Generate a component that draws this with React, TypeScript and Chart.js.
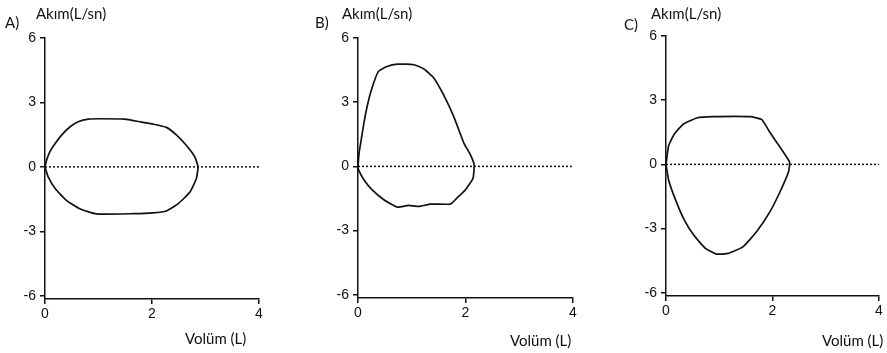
import React, { useEffect, useRef } from "react";
import { Chart, registerables } from "chart.js";

Chart.register(...registerables);

// ---- data ----
const xTickValues = [0, 2, 4];
const yTickValues = [-6, -3, 0, 3, 6];
const baselineX = [0, 4];
const baselineY = [0, 0];

// Panel A (normal-ish loop)
const volA = [0, 0.03, 0.09, 0.19, 0.31, 0.47, 0.62, 0.81, 1.03, 1.49, 1.77, 2.02, 2.27, 2.46, 2.64, 2.8, 2.86,
  2.83, 2.71, 2.49, 2.27, 2.02, 1.65, 0.96, 0.65, 0.4, 0.19, 0.06, 0];
const flowA = [0, 0.31, 0.7, 1.09, 1.48, 1.87, 2.1, 2.22, 2.24, 2.22, 2.1, 1.99, 1.84, 1.48, 1.01, 0.47, 0,
  -0.54, -1.17, -1.71, -2.05, -2.14, -2.18, -2.19, -1.95, -1.56, -1.01, -0.47, 0];

// Panel B
const volB = [0, 0.02, 0.06, 0.11, 0.17, 0.26, 0.38, 0.54, 0.73, 1.04, 1.22, 1.41, 1.59, 1.78, 1.97, 2.09, 2.16,
  2.14, 2.0, 1.84, 1.72, 1.35, 1.13, 0.94, 0.73, 0.48, 0.26, 0.11, 0.01, 0];
const flowB = [0, 0.62, 1.25, 2.02, 2.8, 3.66, 4.44, 4.67, 4.78, 4.75, 4.56, 4.13, 3.35, 2.34, 1.09, 0.55, 0.08,
  -0.55, -1.09, -1.48, -1.76, -1.76, -1.87, -1.82, -1.9, -1.56, -1.09, -0.62, -0.16, 0];

// Panel C
const volC = [0, 0.05, 0.16, 0.33, 0.58, 0.89, 1.58, 1.8, 1.95, 2.14, 2.32,
  2.3, 2.14, 1.95, 1.7, 1.45, 1.17, 0.95, 0.74, 0.52, 0.33, 0.17, 0.05, 0];
const flowC = [0, 0.88, 1.43, 1.89, 2.17, 2.23, 2.23, 2.09, 1.5, 0.81, 0.11,
  -0.36, -1.29, -2.22, -3.15, -3.84, -4.16, -4.19, -3.92, -3.3, -2.53, -1.6, -0.74, 0];

const panelLetters = ["A)", "B)", "C)"];
const yTitle = "Akım(L/sn)";
const xTitle = "Volüm (L)";

const TICK_FONT = "'Liberation Sans', Arial, sans-serif";
const TITLE_FONT = "Lato, 'Liberation Sans', sans-serif";

type PanelLayout = { left: number; width: number; top: number; bottom: number; padRight: number };

const layouts: PanelLayout[] = [
  { left: 0, width: 300, top: 38, bottom: 299, padRight: 41 },
  { left: 313, width: 300, top: 38, bottom: 298, padRight: 40 },
  { left: 621, width: 266, top: 36, bottom: 296, padRight: 8 },
];

const series = [
  { v: volA, f: flowA },
  { v: volB, f: flowB },
  { v: volC, f: flowC },
];

function Panel({ idx }: { idx: number }) {
  const ref = useRef<HTMLCanvasElement | null>(null);
  const L = layouts[idx];
  useEffect(() => {
    if (!ref.current) return;
    const s = series[idx];
    const loop = s.v.map((x, i) => ({ x, y: s.f[i] }));
    const base = baselineX.map((x, i) => ({ x, y: baselineY[i] }));
    const xh = 353 - L.bottom;
    const chart = new Chart(ref.current, {
      type: "scatter",
      data: {
        datasets: [
          {
            data: base,
            showLine: true,
            borderColor: "#111",
            borderWidth: 1.5,
            borderDash: [2, 2],
            pointRadius: 0,
          },
          {
            data: loop,
            showLine: true,
            borderColor: "#111",
            borderWidth: 1.7,
            pointRadius: 0,
            tension: 0.15,
          },
        ],
      },
      options: {
        responsive: false,
        animation: false,
        clip: false as any,
        layout: { padding: { left: 5, right: L.padRight, top: L.top, bottom: 0 } },
        plugins: { legend: { display: false }, tooltip: { enabled: false } },
        scales: {
          x: {
            type: "linear",
            min: 0,
            max: 4,
            afterBuildTicks: (sc: any) => {
              sc.ticks = xTickValues.map((value) => ({ value }));
            },
            afterFit: (sc: any) => {
              sc.height = xh;
            },
            grid: { display: true, drawOnChartArea: false, drawTicks: true, tickLength: 5, color: "#111", lineWidth: 1.5 },
            border: { display: true, color: "#111", width: 1.5 },
            ticks: { color: "#111", font: { family: TICK_FONT, size: 14 }, padding: 2, maxRotation: 0, autoSkip: false },
          },
          y: {
            type: "linear",
            min: -6.15,
            max: 6,
            afterBuildTicks: (sc: any) => {
              sc.ticks = yTickValues.map((value) => ({ value }));
            },
            afterFit: (sc: any) => {
              sc.width = 40;
            },
            grid: { display: true, drawOnChartArea: false, drawTicks: true, tickLength: 5, color: "#111", lineWidth: 1.5 },
            border: { display: true, color: "#111", width: 1.5 },
            ticks: { color: "#111", font: { family: TICK_FONT, size: 14 }, padding: 4, autoSkip: false },
          },
        },
      },
    });
    return () => chart.destroy();
  }, [idx]);
  return (
    <canvas
      ref={ref}
      width={L.width}
      height={353}
      style={{ position: "absolute", left: L.left, top: 0, width: L.width, height: 353 }}
    />
  );
}

const labelStyle: React.CSSProperties = {
  position: "absolute",
  fontFamily: TITLE_FONT,
  fontSize: 15,
  lineHeight: "15px",
  color: "#111",
  whiteSpace: "nowrap",
};

const letterPos = [
  { left: 5, top: 15 },
  { left: 315, top: 15 },
  { left: 624, top: 17 },
];
const yTitlePos = [
  { left: 36, top: 6 },
  { left: 342, top: 6 },
  { left: 651, top: 6 },
];
const xTitlePos = [
  { left: 185, top: 331 },
  { left: 510, top: 333 },
  { left: 822, top: 333 },
];

export default function App() {
  return (
    <div
      style={{
        position: "absolute",
        left: 0,
        top: 0,
        width: 887,
        height: 353,
        overflow: "hidden",
        background: "#fff",
      }}
    >
      {[0, 1, 2].map((i) => (
        <Panel key={"p" + i} idx={i} />
      ))}
      {[0, 1, 2].map((i) => (
        <React.Fragment key={"t" + i}>
          <div style={{ ...labelStyle, ...letterPos[i] }}>{panelLetters[i]}</div>
          <div style={{ ...labelStyle, ...yTitlePos[i] }}>{yTitle}</div>
          <div style={{ ...labelStyle, ...xTitlePos[i] }}>{xTitle}</div>
        </React.Fragment>
      ))}
    </div>
  );
}
